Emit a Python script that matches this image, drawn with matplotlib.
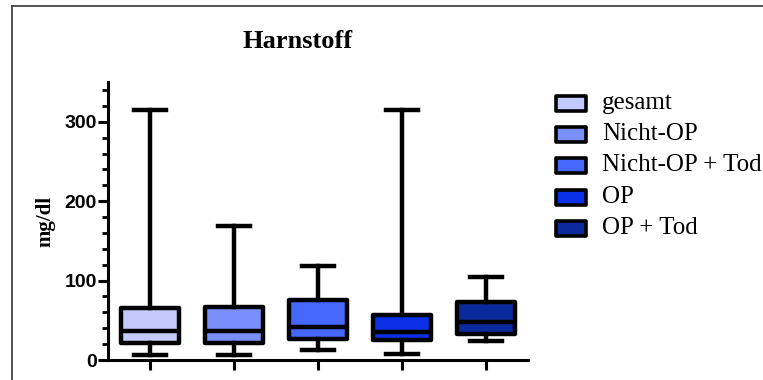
import matplotlib.pyplot as plt
from matplotlib.patches import Rectangle
from matplotlib.lines import Line2D

# Harnstoff box plot data (min, q1, median, q3, max)
groups = ['gesamt', 'Nicht-OP', 'Nicht-OP + Tod', 'OP', 'OP + Tod']
mins = [6, 6, 12, 8, 24]
q1 = [22, 21, 27, 25, 33]
medians = [36, 36, 42, 35, 48]
q3 = [65, 67, 75, 57, 73]
maxs = [315, 169, 119, 315, 105]
colors = ['#c3cbfc', '#7a8ff9', '#4567fb', '#0b30e8', '#0a2a9c']
yticks = [0, 100, 200, 300]

fig = plt.figure(figsize=(7.63, 3.8), dpi=100)
ax = fig.add_axes([0.1415, 0.0526, 0.5505, 0.7314])

stats = []
for k in range(len(groups)):
    stats.append({'label': groups[k], 'whislo': mins[k], 'q1': q1[k], 'med': medians[k],
                  'q3': q3[k], 'whishi': maxs[k], 'fliers': []})

lw = 3.2
bp = ax.bxp(stats, positions=range(1, len(groups) + 1), widths=0.68, patch_artist=True,
            showfliers=False, capwidths=0.37,
            boxprops=dict(linewidth=lw, edgecolor='black'),
            medianprops=dict(color='black', linewidth=lw),
            whiskerprops=dict(color='black', linewidth=lw),
            capprops=dict(color='black', linewidth=lw))
for patch, c in zip(bp['boxes'], colors):
    patch.set_facecolor(c)
    patch.set_joinstyle('round')

ax.set_xlim(0.5, 5.5)
ax.set_ylim(0, 350)
ax.set_yticks(yticks)
ax.set_yticks(range(0, 351, 20), minor=True)
ax.set_xticks(range(1, len(groups) + 1))
ax.set_xticklabels([''] * len(groups))
for s in ['top', 'right']:
    ax.spines[s].set_visible(False)
for s in ['left', 'bottom']:
    ax.spines[s].set_linewidth(2.2)
ax.tick_params(axis='y', which='major', length=7, width=2.2, labelsize=14, pad=1)
ax.tick_params(axis='y', which='minor', length=4, width=2.0)
ax.tick_params(axis='x', which='major', length=7, width=2.2)
for lab in ax.get_yticklabels():
    lab.set_fontweight('bold')
    lab.set_family('Liberation Sans')
ax.patch.set_alpha(0)

W, H = 763.0, 380.0
fig.text(45 / W, 1 - 221 / H, 'mg/dl', fontsize=15, fontweight='bold', family='Liberation Serif',
         rotation=90, ha='center', va='center')
fig.text(298 / W, 1 - 42 / H, 'Harnstoff', fontsize=19, fontweight='bold', family='Liberation Serif',
         ha='center', va='center')

# legend drawn by hand
rows = [103, 134, 165, 197, 228]
for k in range(len(groups)):
    y = rows[k]
    fig.patches.append(Rectangle((556 / W, 1 - (y + 8) / H), 30 / W, 15 / H, transform=fig.transFigure,
                                 facecolor=colors[k], edgecolor='black', linewidth=2.6, joinstyle='round'))
    fig.text(602 / W, 1 - y / H, groups[k], fontsize=18, family='Liberation Serif', va='center', ha='left')

# outer frame (top and left only)
fig.lines.append(Line2D([12 / W, 12 / W], [0, 1 - 6 / H], transform=fig.transFigure, color='#444444', linewidth=1.3))
fig.lines.append(Line2D([12 / W, 1], [1 - 6 / H, 1 - 6 / H], transform=fig.transFigure, color='#444444', linewidth=1.3))

plt.savefig('out.png', dpi=100)
